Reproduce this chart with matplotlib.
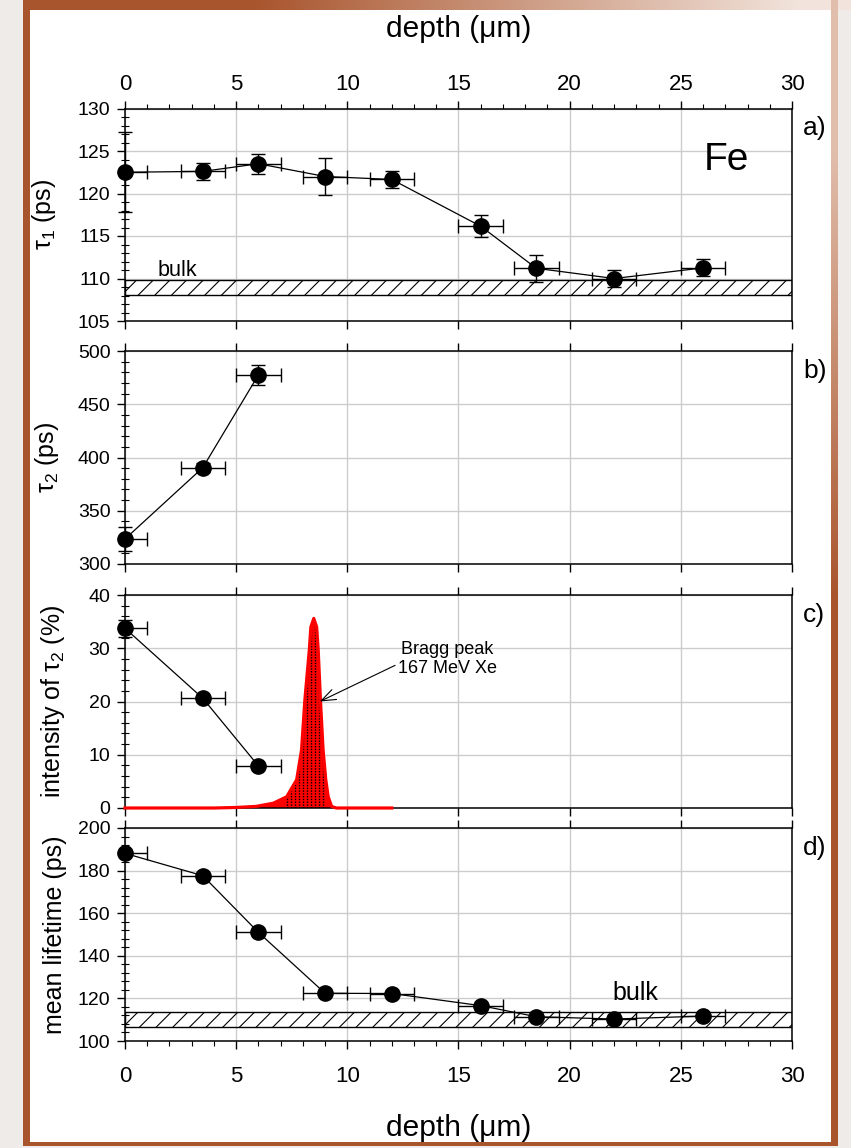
import numpy as np
import matplotlib
matplotlib.use('Agg')
import matplotlib.pyplot as plt
from matplotlib.ticker import MultipleLocator

plt.rcParams['font.family'] = ['Liberation Sans', 'DejaVu Sans']
plt.rcParams['mathtext.fontset'] = 'custom'
plt.rcParams['mathtext.rm'] = 'Liberation Sans'
plt.rcParams['mathtext.it'] = 'Liberation Sans:italic'
plt.rcParams['mathtext.bf'] = 'Liberation Sans:bold'
plt.rcParams['hatch.linewidth'] = 0.8

# ---------------- data ----------------
depth = [0, 3.5, 6, 9, 12, 16, 18.5, 22, 26]
depth_err_lo = [0, 1, 1, 1, 1, 1, 1, 1, 1]
depth_err_hi = [1, 1, 1, 1, 1, 1, 1, 1, 1]

tau1 = [122.5, 122.6, 123.5, 122.0, 121.65, 116.15, 111.2, 110.0, 111.25]
tau1_err = [4.7, 0.98, 1.17, 2.2, 0.95, 1.3, 1.6, 0.95, 1.0]
tau1_bulk = (108.05, 109.8)

tau2 = [323.5, 390.5, 477.5]
tau2_err = [11.7, 4.0, 9.3]

intensity = [33.75, 20.6, 7.9]
intensity_err = [1.6, 0.6, 0.6]

bragg_x = [0, 4.0, 5.0, 5.9, 6.67, 7.27, 7.72, 7.94, 8.09, 8.29, 8.36, 8.49,
           8.62, 8.69, 8.79, 8.91, 9.03, 9.14, 9.29, 9.5, 12.0]
bragg_y = [0, 0, 0.1, 0.3, 0.9, 2.1, 5.3, 10.9, 20.3, 29.7, 34.0, 35.6,
           34.0, 29.7, 20.3, 10.9, 5.3, 2.1, 0.3, 0, 0]

mean_lt = [188.1, 177.6, 151.0, 122.4, 122.3, 116.6, 111.4, 110.3, 111.7]
mean_bulk = (106.7, 113.8)

x_ticks = [0, 5, 10, 15, 20, 25, 30]

# ---------------- figure & background ----------------
W, H = 851, 1148
fig = plt.figure(figsize=(W / 100, H / 100), dpi=100)
fig.patch.set_facecolor('#EEEBE8')

bg = fig.add_axes([0, 0, 1, 1], zorder=-10)
bg.axis('off')
img = np.ones((H, W, 3)) * (np.array([238, 235, 232]) / 255.0)
yy, xx = np.mgrid[0:H, 0:W]
brown = np.array([168, 84, 44]) / 255.0
light = np.array([242, 228, 220]) / 255.0
w_top = np.clip((xx - 250) / 550.0, 0, 1)[..., None]
top_col = brown * (1 - w_top) + light * w_top
m = (yy < 10) & (xx >= 23)
img[m] = top_col[m]
w_r = np.clip(1 - (yy - 150) / 450.0, 0, 1)[..., None]
r_col = brown * (1 - w_r) + np.array([225, 190, 172]) / 255.0 * w_r
m = (xx >= 831) & (xx < 838) & (yy < 1146)
img[m] = r_col[m]
img[(xx >= 23) & (xx < 30) & (yy < 1146)] = brown
img[(yy >= 1142) & (yy < 1146) & (xx >= 23) & (xx < 838)] = brown
img[(xx >= 30) & (xx < 831) & (yy >= 10) & (yy < 1142)] = 1.0
bg.imshow(img, extent=[0, 1, 0, 1], aspect='auto', interpolation='nearest')
bg.set_xlim(0, 1)
bg.set_ylim(0, 1)


def px_axes(top, bottom):
    return [125 / W, 1 - bottom / H, (792 - 125) / W, (bottom - top) / H]


ax_a = fig.add_axes(px_axes(108.5, 321))
ax_b = fig.add_axes(px_axes(351, 564))
ax_c = fig.add_axes(px_axes(595, 808))
ax_d = fig.add_axes(px_axes(828, 1041))
axes = [ax_a, ax_b, ax_c, ax_d]

ylims = [(105, 130), (300, 500), (0, 40), (100, 200)]
ymaj = [5, 50, 10, 20]
ymin = [1, 10, 2, 4]

for ax, yl, mj, mn in zip(axes, ylims, ymaj, ymin):
    ax.set_facecolor('none')
    ax.set_xlim(0, 30)
    ax.set_ylim(*yl)
    ax.set_xticks(x_ticks)
    ax.yaxis.set_major_locator(MultipleLocator(mj))
    ax.yaxis.set_minor_locator(MultipleLocator(mn))
    ax.grid(True, which='major', color='#cccccc', lw=1.0)
    ax.set_axisbelow(True)
    for s in ax.spines.values():
        s.set_linewidth(1.1)
    ax.tick_params(axis='x', which='major', direction='out', top=True, bottom=True,
                   labelbottom=False, labeltop=False, length=5.5, width=1.0)
    ax.tick_params(axis='y', which='major', direction='out', length=5.5, width=1.0,
                   labelsize=14, pad=5)
    ax.tick_params(axis='y', which='minor', direction='inout', length=5.5, width=0.8)

ebkw = dict(fmt='o-', color='black', ms=11, lw=0.9, elinewidth=1.0, capsize=4.7,
            capthick=1.0, zorder=4, clip_on=False)

# ---- panel a ----
ax_a.xaxis.set_minor_locator(MultipleLocator(1))
ax_a.tick_params(axis='x', which='minor', direction='out', top=True, bottom=False,
                 length=3.5, width=0.8)
ax_a.tick_params(axis='x', which='major', labeltop=True, labelsize=16, pad=4)
ax_a.xaxis.set_label_position('top')
ax_a.set_xlabel('depth (μm)', fontsize=21.5)
ax_a.xaxis.set_label_coords(0.5, 1.335)
ax_a.axhspan(*tau1_bulk, facecolor='none', edgecolor='black', hatch='//', lw=1.0, zorder=2)
ax_a.errorbar(depth, tau1, xerr=[depth_err_lo, depth_err_hi], yerr=tau1_err, **ebkw)
ax_a.text(1.45, 110.3, 'bulk', fontsize=15.5, ha='left', va='baseline')
ax_a.text(27.06, 123.9, 'Fe', fontsize=28, ha='center', va='center')
ax_a.set_ylabel('τ$_1$ (ps)', fontsize=18)
ax_a.yaxis.set_label_coords(-0.100, 0.5)

# ---- panel b ----
ax_b.errorbar(depth[:3], tau2, xerr=[depth_err_lo[:3], depth_err_hi[:3]], yerr=tau2_err, **ebkw)
ax_b.set_ylabel('τ$_2$ (ps)', fontsize=18)
ax_b.yaxis.set_label_coords(-0.096, 0.5)

# ---- panel c ----
ax_c.fill_between(bragg_x, 0, bragg_y, facecolor='#ff0000', lw=0, zorder=2)
xs = np.arange(7.3, 9.05, 0.18)
ax_c.vlines(xs, 0, np.interp(xs, bragg_x, bragg_y), colors='black',
            linestyles=(0, (1, 1)), lw=1.0, zorder=2.5)
ax_c.plot(bragg_x, bragg_y, color='#ff0000', lw=2.3, zorder=3, clip_on=False,
          solid_joinstyle='round')
ax_c.errorbar(depth[:3], intensity, xerr=[depth_err_lo[:3], depth_err_hi[:3]],
              yerr=intensity_err, **ebkw)
ax_c.annotate('Bragg peak\n167 MeV Xe', xy=(8.76, 20.0), xytext=(14.5, 28.0),
              ha='center', va='center', fontsize=13, multialignment='center',
              arrowprops=dict(arrowstyle='->,head_length=0.8,head_width=0.3',
                              color='black', lw=0.8, shrinkA=0, shrinkB=0,
                              relpos=(0, 0.36)))
ax_c.set_ylabel('intensity of τ$_2$ (%)', fontsize=18)
ax_c.yaxis.set_label_coords(-0.087, 0.5)

# ---- panel d ----
ax_d.xaxis.set_minor_locator(MultipleLocator(1))
ax_d.tick_params(axis='x', which='minor', direction='out', top=False, bottom=True,
                 length=3.5, width=0.8)
ax_d.tick_params(axis='x', which='major', labelbottom=True, labelsize=16, pad=12.5)
ax_d.set_xlabel('depth (μm)', fontsize=21.5)
ax_d.xaxis.set_label_coords(0.5, -0.345)
ax_d.axhspan(*mean_bulk, facecolor='none', edgecolor='black', hatch='//', lw=1.0, zorder=2)
ax_d.errorbar(depth, mean_lt, xerr=[depth_err_lo, depth_err_hi], **ebkw)
ax_d.text(21.93, 119.2, 'bulk', fontsize=18, ha='left', va='baseline')
ax_d.set_ylabel('mean lifetime (ps)', fontsize=18)
ax_d.yaxis.set_label_coords(-0.087, 0.5)

for ax, lab in zip(axes, ['a)', 'b)', 'c)', 'd)']):
    ax.text(1.0165, 0.906, lab, transform=ax.transAxes, fontsize=19,
            ha='left', va='center')

fig.savefig('out.png', dpi=100, facecolor=fig.get_facecolor())
